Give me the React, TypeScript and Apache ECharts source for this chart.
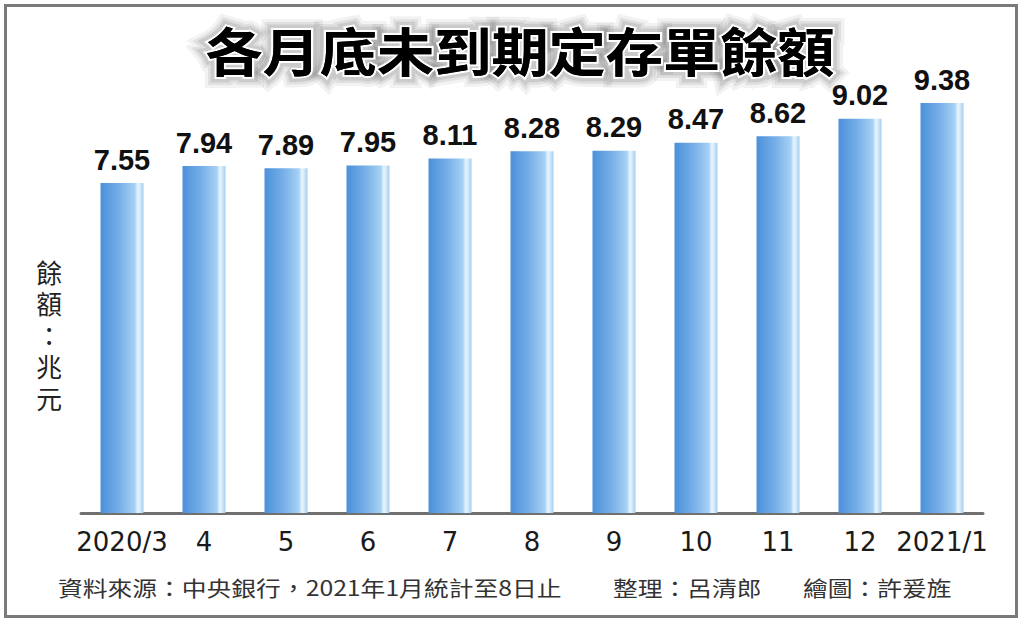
import React, { useEffect, useRef } from "react";
import * as echarts from "echarts";

const categories = ["2020/3", "4", "5", "6", "7", "8", "9", "10", "11", "12", "2021/1"];
const balances = [7.55, 7.94, 7.89, 7.95, 8.11, 8.28, 8.29, 8.47, 8.62, 9.02, 9.38];
const titleText = "各月底未到期定存單餘額";
const yAxisNameChars = ["餘", "額", "：", "兆", "元"];
const footerSource = "資料來源：中央銀行，2021年1月統計至8日止";
const footerEditor = "整理：呂清郎";
const footerDrawer = "繪圖：許爰旌";

const CJK = '"Noto Sans CJK TC", "Noto Sans CJK SC", sans-serif';

export default function App() {
  const ref = useRef<HTMLDivElement>(null);

  useEffect(() => {
    if (!ref.current) return;
    const chart = echarts.init(ref.current, undefined, { renderer: "svg" });
    const barGradient = new echarts.graphic.LinearGradient(0, 0, 1, 0, [
      { offset: 0, color: "#4b90da" },
      { offset: 0.45, color: "#78b0e8" },
      { offset: 0.8, color: "#a7d1f4" },
      { offset: 0.87, color: "#e9f5fd" },
      { offset: 0.93, color: "#cde6f8" },
      { offset: 1, color: "#a4ccef" },
    ]);
    const titleBase = {
      type: "text",
      x: 520,
      y: 50,
      scaleX: 1.1,
      silent: true,
    };
    const titleStyle = {
      text: titleText,
      fontSize: 52,
      fontWeight: "bold",
      fontFamily: CJK,
      textAlign: "center",
      textVerticalAlign: "middle",
    };
    const glowLayers = [
      { w: 22, c: "rgba(0,0,0,0.05)" },
      { w: 16, c: "rgba(0,0,0,0.07)" },
      { w: 11, c: "rgba(0,0,0,0.09)" },
    ].map((g) => ({
      ...titleBase,
      style: { ...titleStyle, fill: "rgba(0,0,0,0)", stroke: g.c, lineWidth: g.w, lineJoin: "round" },
    }));
    const yNameTexts = yAxisNameChars.map((ch, i) => ({
      type: "text",
      x: 49,
      y: 271 + i * 31.5,
      scaleY: 1.12,
      scaleX: 1.12,
      style: {
        text: ch,
        fontSize: 23,
        fontFamily: CJK,
        fill: "#222",
        textAlign: "center",
        textVerticalAlign: "middle",
      },
    }));
    const footerStyle = {
      fontSize: 21,
      fontFamily: CJK,
      fill: "#333",
      textAlign: "left",
      textVerticalAlign: "middle",
    };
    chart.setOption({
      animation: false,
      backgroundColor: "#ffffff",
      grid: { left: 81, right: 41, top: 76, bottom: 111 },
      xAxis: {
        type: "category",
        data: categories,
        axisLine: { lineStyle: { color: "#707070", width: 3 } },
        axisTick: { alignWithLabel: true, length: 8, lineStyle: { color: "#707070", width: 2 } },
        axisLabel: {
          color: "#1a1a1a",
          fontSize: 26,
          fontFamily: '"DejaVu Sans", sans-serif',
          margin: 16,
          interval: 0,
        },
      },
      yAxis: {
        type: "value",
        min: 0,
        max: 10,
        show: false,
      },
      series: [
        {
          type: "bar",
          data: balances,
          barWidth: 43,
          itemStyle: { color: barGradient },
          label: {
            show: true,
            position: "top",
            distance: 9,
            color: "#111",
            fontSize: 29,
            fontWeight: "bold",
            fontFamily: '"Liberation Sans", Arial, sans-serif',
            formatter: (p: any) => p.value.toFixed(2),
          },
        },
      ],
      graphic: [
        {
          type: "rect",
          shape: { x: 5.5, y: 5.5, width: 1011, height: 611 },
          style: { fill: "none", stroke: "#7a7a7a", lineWidth: 3 },
          silent: true,
        },
        ...glowLayers,
        {
          ...titleBase,
          style: { ...titleStyle, fill: "#000", stroke: "#ffffff", lineWidth: 4, lineJoin: "round" },
        },
        {
          ...titleBase,
          style: { ...titleStyle, fill: "#000" },
        },
        ...yNameTexts,
        { type: "text", x: 58, y: 587, scaleX: 1.18, style: { ...footerStyle, text: footerSource } },
        { type: "text", x: 613, y: 587, scaleX: 1.18, style: { ...footerStyle, text: footerEditor } },
        { type: "text", x: 803, y: 587, scaleX: 1.18, style: { ...footerStyle, text: footerDrawer } },
      ],
    });
    return () => chart.dispose();
  }, []);

  return (
    <div
      ref={ref}
      style={{ position: "fixed", left: 0, top: 0, width: 1024, height: 624 }}
    />
  );
}
